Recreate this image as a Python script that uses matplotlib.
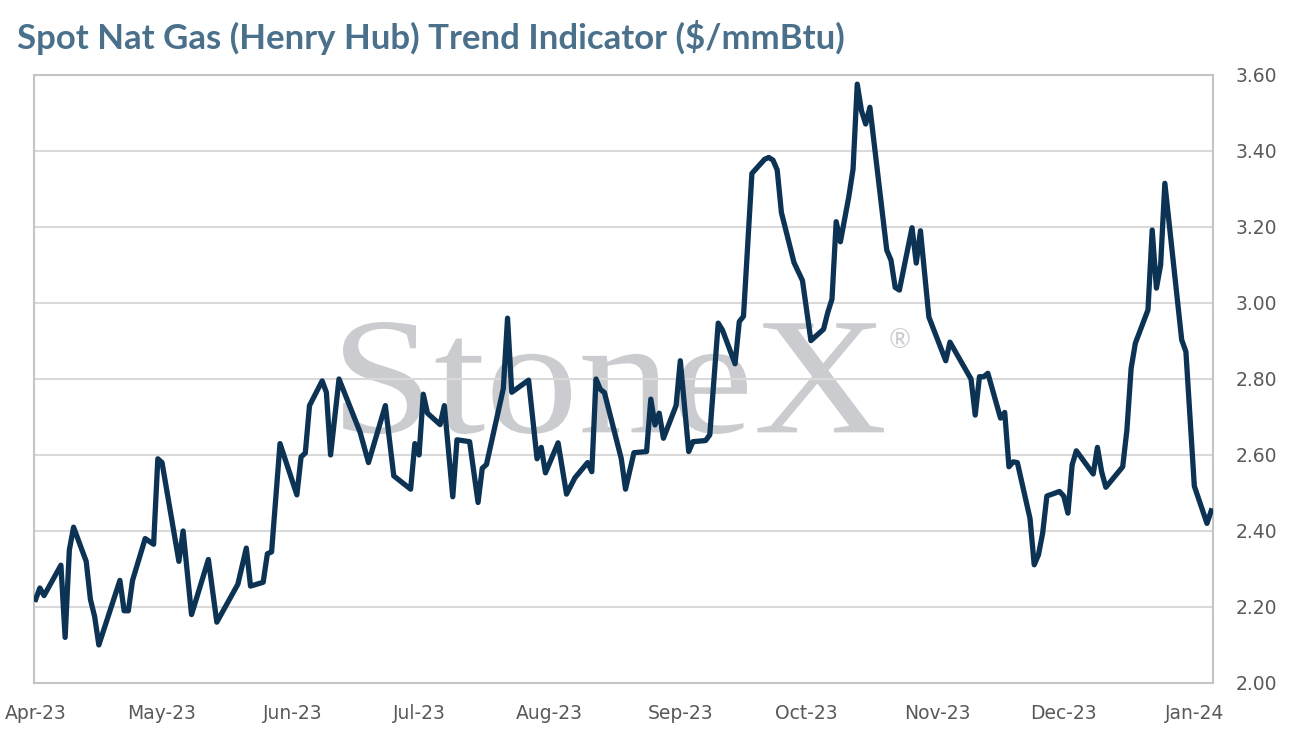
import numpy as np
import pandas as pd
import matplotlib
matplotlib.use('Agg')
import matplotlib.pyplot as plt
import matplotlib.dates as mdates
import matplotlib.transforms as mtransforms
from matplotlib.ticker import FormatStrFormatter
from matplotlib.textpath import TextPath
from matplotlib.patches import PathPatch
from matplotlib.font_manager import FontProperties

# vertices of the trend line
dates = ['2023-04-01', '2023-04-02', '2023-04-03', '2023-04-05', '2023-04-07', '2023-04-08',
         '2023-04-09', '2023-04-10', '2023-04-13', '2023-04-14', '2023-04-15', '2023-04-16',
         '2023-04-21', '2023-04-22', '2023-04-23', '2023-04-24', '2023-04-27', '2023-04-29',
         '2023-04-30', '2023-05-01', '2023-05-05', '2023-05-06', '2023-05-08', '2023-05-12',
         '2023-05-14', '2023-05-19', '2023-05-21', '2023-05-22', '2023-05-25', '2023-05-26',
         '2023-05-27', '2023-05-29', '2023-06-02', '2023-06-03', '2023-06-04', '2023-06-05',
         '2023-06-08', '2023-06-09', '2023-06-10', '2023-06-12', '2023-06-17', '2023-06-19',
         '2023-06-23', '2023-06-25', '2023-06-29', '2023-06-30', '2023-07-01', '2023-07-02',
         '2023-07-03', '2023-07-06', '2023-07-07', '2023-07-09', '2023-07-10', '2023-07-13',
         '2023-07-15', '2023-07-16', '2023-07-17', '2023-07-21', '2023-07-22', '2023-07-23',
         '2023-07-27', '2023-07-29', '2023-07-30', '2023-07-31', '2023-08-03', '2023-08-05',
         '2023-08-07', '2023-08-10', '2023-08-11', '2023-08-12', '2023-08-13', '2023-08-14',
         '2023-08-18', '2023-08-19', '2023-08-21', '2023-08-24', '2023-08-25', '2023-08-26',
         '2023-08-27', '2023-08-28', '2023-08-31', '2023-09-01', '2023-09-03', '2023-09-04',
         '2023-09-07', '2023-09-08', '2023-09-10', '2023-09-11', '2023-09-14', '2023-09-15',
         '2023-09-16', '2023-09-18', '2023-09-21', '2023-09-22', '2023-09-23', '2023-09-24',
         '2023-09-25', '2023-09-28', '2023-09-30', '2023-10-02', '2023-10-05', '2023-10-06',
         '2023-10-07', '2023-10-08', '2023-10-09', '2023-10-11', '2023-10-12', '2023-10-13',
         '2023-10-14', '2023-10-15', '2023-10-16', '2023-10-20', '2023-10-21', '2023-10-22',
         '2023-10-23', '2023-10-26', '2023-10-27', '2023-10-28', '2023-10-30', '2023-11-03',
         '2023-11-04', '2023-11-09', '2023-11-10', '2023-11-11', '2023-11-12', '2023-11-13',
         '2023-11-16', '2023-11-17', '2023-11-18', '2023-11-19', '2023-11-20', '2023-11-23',
         '2023-11-24', '2023-11-25', '2023-11-26', '2023-11-27', '2023-11-30', '2023-12-01',
         '2023-12-02', '2023-12-03', '2023-12-04', '2023-12-08', '2023-12-09', '2023-12-10',
         '2023-12-11', '2023-12-15', '2023-12-16', '2023-12-17', '2023-12-18', '2023-12-21',
         '2023-12-22', '2023-12-23', '2023-12-24', '2023-12-25', '2023-12-29', '2023-12-30',
         '2024-01-01', '2024-01-04', '2024-01-05']
price = [2.22, 2.25, 2.23, 2.27, 2.31, 2.12,
         2.35, 2.41, 2.32, 2.22, 2.175, 2.10,
         2.27, 2.19, 2.19, 2.27, 2.38, 2.365,
         2.59, 2.58, 2.32, 2.40, 2.18, 2.325,
         2.16, 2.26, 2.355, 2.255, 2.265, 2.34,
         2.345, 2.63, 2.495, 2.595, 2.605, 2.73,
         2.795, 2.765, 2.60, 2.80, 2.66, 2.58,
         2.73, 2.545, 2.51, 2.63, 2.60, 2.76,
         2.71, 2.68, 2.73, 2.49, 2.64, 2.635,
         2.475, 2.565, 2.575, 2.775, 2.96, 2.765,
         2.797, 2.59, 2.62, 2.553, 2.632, 2.497,
         2.54, 2.58, 2.556, 2.80, 2.773, 2.764,
         2.59, 2.51, 2.606, 2.609, 2.747, 2.679,
         2.71, 2.644, 2.73, 2.848, 2.609, 2.635,
         2.638, 2.653, 2.947, 2.929, 2.84, 2.951,
         2.965, 3.341, 3.378, 3.383, 3.376, 3.35,
         3.238, 3.106, 3.059, 2.901, 2.931, 2.975,
         3.01, 3.214, 3.161, 3.28, 3.352, 3.576,
         3.506, 3.471, 3.515, 3.139, 3.113, 3.041,
         3.034, 3.198, 3.105, 3.19, 2.963, 2.848,
         2.897, 2.80, 2.705, 2.806, 2.806, 2.815,
         2.697, 2.712, 2.569, 2.582, 2.58, 2.433,
         2.311, 2.337, 2.394, 2.492, 2.504, 2.492,
         2.447, 2.574, 2.611, 2.55, 2.62, 2.556,
         2.515, 2.569, 2.666, 2.828, 2.894, 2.982,
         3.192, 3.039, 3.10, 3.315, 2.903, 2.872,
         2.518, 2.42, 2.453]

title = 'Spot Nat Gas (Henry Hub) Trend Indicator ($/mmBtu)'
yticks = [2.00, 2.20, 2.40, 2.60, 2.80, 3.00, 3.20, 3.40, 3.60]

plt.rcParams['font.family'] = ['DejaVu Sans']

x = pd.to_datetime(dates)
W, H = 1290, 741
fig = plt.figure(figsize=(W / 100, H / 100), dpi=100)
ax = fig.add_axes([0.0264, 0.0783, 0.914, 0.8205])

# watermark "StoneX", stretched into the box it takes in the reference (pixels)
tp = TextPath((0, 0), 'StoneX', size=100, prop=FontProperties(family='Liberation Serif'))
ext = tp.get_extents()
box = (343, 884, 741 - 434, 741 - 322)   # left, right, bottom, top
sx = (box[1] - box[0]) / ext.width
sy = (box[3] - box[2]) / ext.height
tr = mtransforms.Affine2D().translate(-ext.x0, -ext.y0).scale(sx, sy).translate(box[0], box[2])
wm = PathPatch(tp, transform=tr, facecolor='#cbccd0', edgecolor='none', zorder=0.1)
ax.add_artist(wm)
ax.text(0.7345, 0.5625, '\u00ae', transform=ax.transAxes, ha='center', va='center',
        fontsize=19, family='Lato', color='#cbccd0', zorder=0.1)

ax.plot(x, price, color='#0c3354', lw=3.8, solid_joinstyle='round', zorder=3)

ax.set_ylim(2.0, 3.6)
ax.set_yticks(yticks)
ax.yaxis.set_major_formatter(FormatStrFormatter('%.2f'))
ax.yaxis.tick_right()
ax.set_xlim(pd.Timestamp('2023-04-01') - pd.Timedelta(hours=9),
            pd.Timestamp('2024-01-05') + pd.Timedelta(hours=11))
ax.xaxis.set_major_locator(mdates.MonthLocator())
ax.xaxis.set_major_formatter(mdates.DateFormatter('%b-%y'))

ax.set_axisbelow(True)
ax.grid(axis='y', color='#d9d9d9', lw=1.5)
for s in ax.spines.values():
    s.set_color('#c4c4c4')
    s.set_linewidth(1.5)
ax.tick_params(axis='both', length=0, labelsize=13.5, labelcolor='#595959')
ax.tick_params(axis='x', pad=15)
ax.tick_params(axis='y', pad=16)

fig.text(0.013, 0.949, title, fontsize=25, fontweight='bold', color='#4a708b',
         ha='left', va='center', family='Lato')

plt.savefig('out.png', dpi=100)
